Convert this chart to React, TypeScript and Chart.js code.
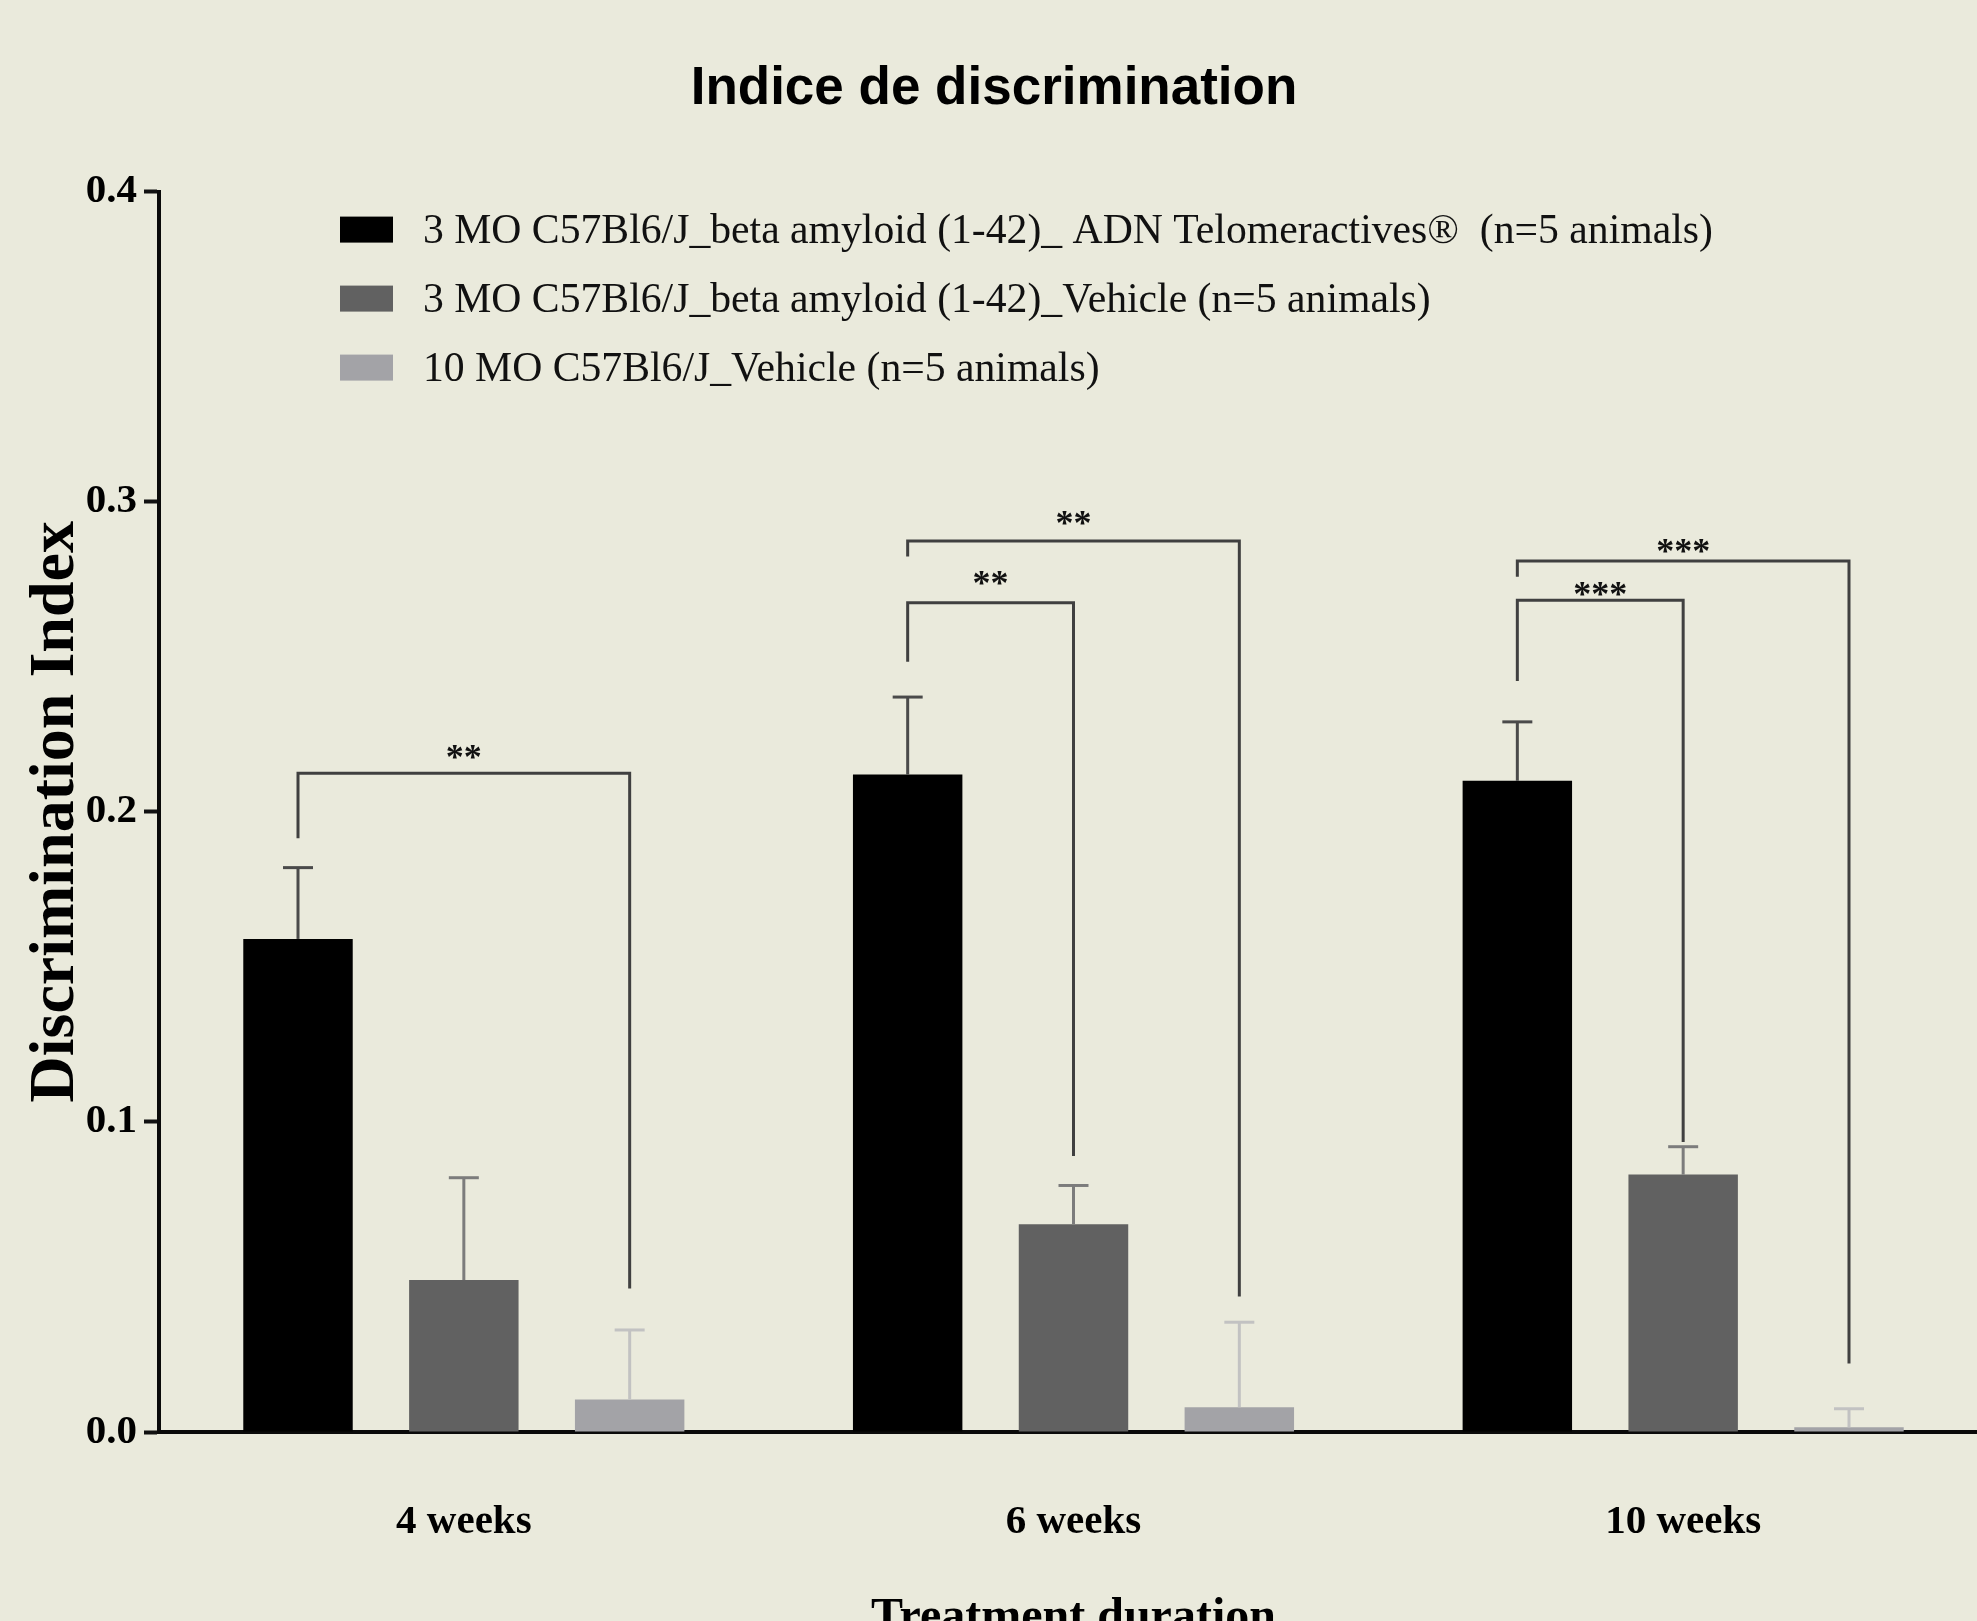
import React, { useEffect, useRef } from "react";
import { Chart, registerables } from "chart.js";

Chart.register(...registerables);

// ---- data ----
const categories = ["4 weeks", "6 weeks", "10 weeks"];
const seriesLabels = [
  "3 MO C57Bl6/J_beta amyloid (1-42)_ ADN Telomeractives\u00AE  (n=5 animals)",
  "3 MO C57Bl6/J_beta amyloid (1-42)_Vehicle (n=5 animals)",
  "10 MO C57Bl6/J_Vehicle (n=5 animals)",
];
const telomeractives = [0.159, 0.212, 0.21];
const telomeractivesSem = [0.023, 0.025, 0.019];
const vehicle3mo = [0.049, 0.067, 0.083];
const vehicle3moSem = [0.033, 0.0125, 0.009];
const vehicle10mo = [0.0105, 0.008, 0.0015];
const vehicle10moSem = [0.0224, 0.0274, 0.006];
const yMin = 0;
const yMax = 0.4;
const yStep = 0.1;

// significance brackets (values in axis units)
const bracketGroup = [0, 1, 1, 2, 2];
const bracketFrom = [0, 0, 0, 0, 0];
const bracketTo = [2, 1, 2, 1, 2];
const bracketTop = [0.2124, 0.2674, 0.2873, 0.2682, 0.2809];
const bracketLeftEnd = [0.1915, 0.2484, 0.2823, 0.2422, 0.2758];
const bracketRightEnd = [0.0463, 0.089, 0.0437, 0.0935, 0.0221];
const bracketLabels = ["**", "**", "**", "***", "***"];
const bracketLabelY = [0.2193, 0.2754, 0.2949, 0.2719, 0.2856];

// ---- styles ----
const BG = "#eaeadc";
const barColors = ["#000000", "#616161", "#a3a3a7"];
const errColors = ["#4a4a4a", "#7c7c7c", "#c2c2c2"];
const SERIF = "'Liberation Serif', 'Times New Roman', serif";

const bgPlugin = {
  id: "bg",
  beforeDraw(chart: any) {
    const { ctx, width, height } = chart;
    ctx.save();
    ctx.fillStyle = BG;
    ctx.fillRect(0, 0, width, height);
    ctx.restore();
  },
};

const sems = [telomeractivesSem, vehicle3moSem, vehicle10moSem];

const errorBarPlugin = {
  id: "errorBars",
  afterDatasetsDraw(chart: any) {
    const { ctx } = chart;
    const yScale = chart.scales.y;
    ctx.save();
    chart.data.datasets.forEach((ds: any, i: number) => {
      const meta = chart.getDatasetMeta(i);
      meta.data.forEach((bar: any, j: number) => {
        const v = ds.data[j];
        const top = yScale.getPixelForValue(v + sems[i][j]);
        ctx.strokeStyle = errColors[i];
        ctx.lineWidth = 3;
        ctx.beginPath();
        ctx.moveTo(bar.x, bar.y);
        ctx.lineTo(bar.x, top);
        ctx.stroke();
        ctx.beginPath();
        ctx.moveTo(bar.x - 15, top);
        ctx.lineTo(bar.x + 15, top);
        ctx.stroke();
      });
    });
    ctx.restore();
  },
};

const bracketPlugin = {
  id: "brackets",
  afterDatasetsDraw(chart: any) {
    const { ctx } = chart;
    const yScale = chart.scales.y;
    ctx.save();
    ctx.strokeStyle = "#404040";
    ctx.lineWidth = 3;
    ctx.lineJoin = "miter";
    for (let k = 0; k < bracketGroup.length; k++) {
      const g = bracketGroup[k];
      const x1 = chart.getDatasetMeta(bracketFrom[k]).data[g].x;
      const x2 = chart.getDatasetMeta(bracketTo[k]).data[g].x;
      const yT = yScale.getPixelForValue(bracketTop[k]);
      const yL = yScale.getPixelForValue(bracketLeftEnd[k]);
      const yR = yScale.getPixelForValue(bracketRightEnd[k]);
      ctx.beginPath();
      ctx.moveTo(x1, yL);
      ctx.lineTo(x1, yT);
      ctx.lineTo(x2, yT);
      ctx.lineTo(x2, yR);
      ctx.stroke();
      const ly = yScale.getPixelForValue(bracketLabelY[k]);
      ctx.fillStyle = "#111";
      ctx.font = `bold 36px ${SERIF}`;
      ctx.textAlign = "center";
      ctx.textBaseline = "alphabetic";
      ctx.fillText(bracketLabels[k], (x1 + x2) / 2, ly + 17);
    }
    ctx.restore();
  },
};

const legendPlugin = {
  id: "customLegend",
  afterDraw(chart: any) {
    const { ctx, chartArea } = chart;
    ctx.save();
    const boxX = chartArea.left + 181;
    const textX = chartArea.left + 264;
    const firstY = chartArea.top + 38;
    const rowGap = 69;
    chart.data.datasets.forEach((ds: any, i: number) => {
      const cy = firstY + i * rowGap;
      ctx.fillStyle = ds.backgroundColor;
      ctx.fillRect(boxX, cy - 13, 53, 26);
      ctx.fillStyle = "#111";
      ctx.font = `41.7px ${SERIF}`;
      ctx.textAlign = "left";
      ctx.textBaseline = "middle";
      ctx.fillText(ds.label, textX, cy + 2);
    });
    ctx.restore();
  },
};

export default function App() {
  const ref = useRef<HTMLCanvasElement | null>(null);

  useEffect(() => {
    if (!ref.current) return;
    const values = [telomeractives, vehicle3mo, vehicle10mo];
    const chart = new Chart(ref.current, {
      type: "bar",
      data: {
        labels: categories,
        datasets: values.map((d, i) => ({
          label: seriesLabels[i],
          data: d,
          backgroundColor: barColors[i],
          borderWidth: 0,
          categoryPercentage: 0.816,
          barPercentage: 0.66,
        })),
      },
      options: {
        responsive: false,
        animation: false,
        devicePixelRatio: 1,
        layout: { padding: { left: 0, right: 0, top: 0, bottom: 0 } },
        plugins: {
          legend: { display: false },
          tooltip: { enabled: false },
          title: {
            display: true,
            text: "Indice de discrimination",
            color: "#000",
            font: { family: "'Liberation Sans', Arial, sans-serif", size: 53, weight: "bold" },
            padding: { top: 58, bottom: 70 },
          },
        },
        scales: {
          x: {
            z: 1,
            offset: true,
            grid: { display: false, drawTicks: false },
            border: { display: true, color: "#0a0a0a", width: 4 },
            ticks: {
              color: "#000",
              padding: 66,
              font: { family: SERIF, size: 41, weight: "bold" },
            },
            title: {
              display: true,
              text: "Treatment duration",
              color: "#000",
              font: { family: SERIF, size: 48, weight: "bold" },
              padding: { top: 0, bottom: -26 },
            },
            afterFit(scale: any) {
              scale.height = 189;
            },
          },
          y: {
            min: yMin,
            max: yMax,
            grid: {
              display: true,
              drawOnChartArea: false,
              drawTicks: true,
              tickLength: 15,
              tickWidth: 4,
              tickColor: "#111",
            },
            border: { display: true, color: "#0a0a0a", width: 4 },
            ticks: {
              stepSize: yStep,
              padding: 7,
              color: "#000",
              font: { family: SERIF, size: 41, weight: "bold" },
              callback: (v: any) => Number(v).toFixed(1),
            },
            title: {
              display: true,
              text: "Discrimination Index",
              color: "#000",
              font: { family: SERIF, size: 64, weight: "bold" },
              padding: { top: 18, bottom: 0 },
            },
            afterFit(scale: any) {
              scale.width = 159;
            },
          },
        },
      } as any,
      plugins: [bgPlugin, errorBarPlugin, bracketPlugin, legendPlugin],
    });
    return () => chart.destroy();
  }, []);

  return (
    <div
      style={{
        position: "fixed",
        left: 0,
        top: 0,
        width: 1977,
        height: 1621,
        overflow: "hidden",
        background: BG,
      }}
    >
      <canvas ref={ref} width={1988} height={1621} style={{ display: "block", width: 1988, height: 1621 }} />
    </div>
  );
}
